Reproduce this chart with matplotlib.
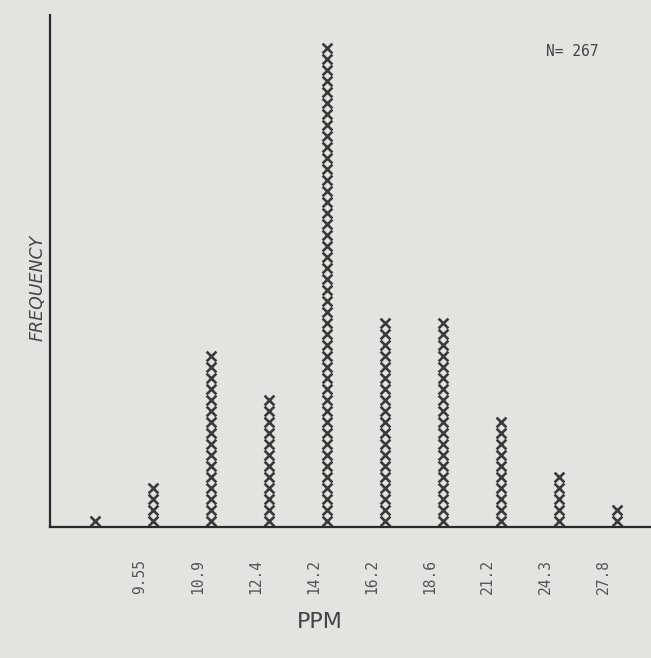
import numpy as np
import matplotlib
matplotlib.use("Agg")
import matplotlib.pyplot as plt

# ------------------ datos (leidos del histograma impreso) ------------------
# numero de "X" impresas por clase (cada X ~ 2 muestras, N = 267)
x_counts = [1, 4, 16, 12, 44, 19, 19, 10, 5, 2]
bin_labels = ["9.55", "10.9", "12.4", "14.2", "16.2", "18.6", "21.2", "24.3", "27.8"]
n_total = 267

PAPER = "#e3e3e0"
INK = "#3a3a3a"

fig = plt.figure(figsize=(6.51, 6.58), dpi=100, facecolor=PAPER)
ax = fig.add_axes([0.077, 0.199, 0.923, 0.778], facecolor=PAPER)

# columnas de X
for i, c in enumerate(x_counts):
    ys = np.arange(c) + 0.55
    ax.scatter(np.full(c, i), ys, marker="x", s=50, linewidths=1.9, color=INK)

ax.set_xlim(-0.78, 9.59)
ax.set_ylim(0, 46.5)

for s in ["top", "right"]:
    ax.spines[s].set_visible(False)
for s in ["left", "bottom"]:
    ax.spines[s].set_color("#2a2a2a")
    ax.spines[s].set_linewidth(1.6)

ticks = np.arange(len(bin_labels)) + 0.77
ax.set_xticks(ticks)
ax.set_xticklabels(bin_labels, rotation=90, family="DejaVu Sans Mono",
                   fontsize=10.5, color="#555555")
ax.tick_params(axis="x", length=0, pad=23)
ax.set_yticks([])

ax.set_xlabel("PPM", fontsize=16, color="#444444")
ax.xaxis.set_label_coords(0.449, -0.165)
ax.set_ylabel("FREQUENCY", fontsize=12.5, color="#444444", style="italic")
ax.yaxis.set_label_coords(-0.006, 0.467)

ax.text(0.826, 0.928, f"N= {n_total}", transform=ax.transAxes,
        family="DejaVu Sans Mono", fontsize=10.5, color="#444444",
        ha="left", va="center")

fig.savefig("out.png", dpi=100, facecolor=PAPER)
